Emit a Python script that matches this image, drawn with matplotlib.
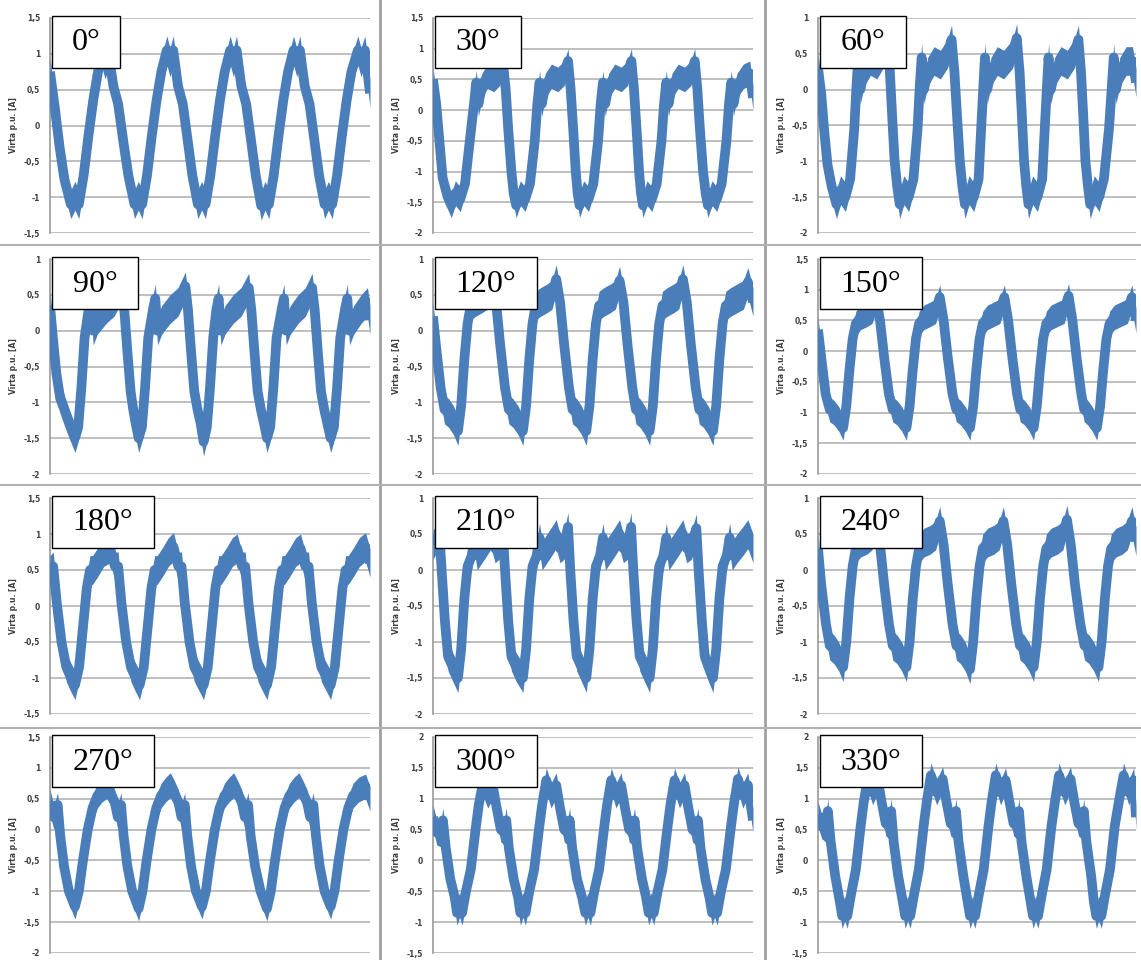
import matplotlib
matplotlib.use("Agg")
import matplotlib.pyplot as plt
from matplotlib.patches import Rectangle
from matplotlib.lines import Line2D
from matplotlib.ticker import FuncFormatter, MultipleLocator

# phase-current waveforms, time axis normalised to 0..100 over the record
wave_000 = [(0, 0.75), (1.5, 0.25), (3, -0.3), (4.5, -0.75), (6.5, -1.1), (7.8, -0.98), (9, -1.1), (10.5, -0.7), (12, -0.15), (13.5, 0.35), (15, 0.75), (16.3, 1.0), (17.2, 0.85), (18.3, 1.0), (19.8, 0.55), (21.3, 0.3), (23, -0.25), (24.5, -0.7), (26.4, -1.1), (27.6, -0.98), (28.8, -1.1), (30.3, -0.7), (31.8, -0.15), (33.3, 0.35), (34.8, 0.75), (36.5, 1.05), (37.5, 0.88), (38.5, 1.05), (40, 0.55), (41.5, 0.3), (43, -0.2), (44.5, -0.7), (46.2, -1.1), (47.4, -0.98), (48.6, -1.1), (50.1, -0.7), (51.6, -0.15), (53.1, 0.35), (54.6, 0.75), (56.3, 1.05), (57.3, 0.88), (58.3, 1.05), (59.8, 0.55), (61.3, 0.3), (62.8, -0.2), (64.3, -0.7), (66, -1.12), (67.2, -0.98), (68.4, -1.1), (69.9, -0.7), (71.4, -0.15), (72.9, 0.35), (74.4, 0.75), (76.1, 1.05), (77.1, 0.88), (78.1, 1.05), (79.6, 0.55), (81.1, 0.3), (82.6, -0.2), (84.1, -0.7), (85.8, -1.1), (87, -0.98), (88.2, -1.1), (89.7, -0.7), (91.2, -0.15), (92.7, 0.35), (94.2, 0.75), (96.2, 1.05), (97.2, 0.88), (98.4, 1.05), (100, 0.45)]
wave_030 = [(0, 0.5), (1, 0.1), (2, -0.5), (3, -1.1), (4.5, -1.4), (5.7, -1.55), (7, -1.35), (8.5, -1.45), (10, -1.2), (11.5, -0.5), (12.8, 0.1), (13.5, 0.45), (14.2, 0.1), (15.3, 0.4), (17, 0.55), (19, 0.5), (20.8, 0.6), (21.9, 0.75), (22.7, 0.35), (23.5, -0.3), (24.5, -1.0), (25.2, -1.35), (26, -1.55), (27.3, -1.35), (28.8, -1.45), (30.3, -1.2), (31.8, -0.5), (32.6, 0.1), (33.3, 0.45), (34, 0.1), (35.1, 0.4), (37, 0.55), (39, 0.5), (41, 0.6), (42.2, 0.8), (43, 0.35), (43.8, -0.3), (44.6, -1.0), (45.2, -1.35), (45.8, -1.55), (47.1, -1.35), (48.6, -1.45), (50.1, -1.2), (51.6, -0.5), (52.4, 0.1), (53.1, 0.45), (53.8, 0.1), (54.9, 0.4), (56.8, 0.55), (58.8, 0.5), (60.8, 0.6), (62, 0.8), (62.8, 0.35), (63.6, -0.3), (64.4, -1.0), (65, -1.35), (65.6, -1.55), (66.9, -1.35), (68.4, -1.45), (69.9, -1.2), (71.4, -0.5), (72.2, 0.1), (72.9, 0.45), (73.6, 0.1), (74.7, 0.4), (76.6, 0.55), (78.6, 0.5), (80.6, 0.6), (81.8, 0.8), (82.6, 0.35), (83.4, -0.3), (84.4, -1.0), (85.2, -1.35), (85.9, -1.55), (87.2, -1.35), (88.7, -1.45), (90.2, -1.2), (91.7, -0.5), (92.5, 0.1), (93.2, 0.45), (93.9, 0.1), (95, 0.4), (97, 0.55), (99, 0.6), (100, 0.2)]
wave_060 = [(0, 0.3), (1, -0.05), (2, -0.6), (3, -1.05), (4.3, -1.35), (5.8, -1.6), (7.1, -1.4), (8.6, -1.5), (10.1, -1.25), (11.4, -0.55), (12.1, 0.05), (12.6, 0.4), (13.3, 0.0), (14.5, 0.25), (16.5, 0.4), (18.5, 0.35), (20.5, 0.5), (21.8, 0.7), (22.6, 0.25), (23.3, -0.35), (24.1, -1.0), (24.9, -1.35), (25.7, -1.6), (27.0, -1.4), (28.5, -1.5), (30.0, -1.25), (31.3, -0.55), (32.0, 0.05), (32.6, 0.45), (33.3, 0.0), (34.5, 0.25), (36.5, 0.4), (38.5, 0.35), (40.7, 0.5), (42.0, 0.7), (42.9, 0.25), (43.7, -0.35), (44.6, -1.0), (45.4, -1.35), (46.2, -1.6), (47.5, -1.4), (49.0, -1.5), (50.5, -1.25), (51.3, -0.55), (52.0, 0.05), (52.5, 0.45), (53.2, 0.0), (54.4, 0.25), (56.4, 0.4), (58.4, 0.35), (61.2, 0.5), (62.5, 0.72), (63.4, 0.25), (64.1, -0.35), (64.8, -1.0), (65.5, -1.35), (66.2, -1.6), (67.5, -1.4), (69, -1.5), (70.5, -1.25), (71.3, -0.55), (72.0, 0.05), (72.5, 0.45), (73.2, 0.0), (74.4, 0.25), (76.4, 0.4), (78.4, 0.35), (80.6, 0.5), (81.9, 0.7), (82.7, 0.25), (83.4, -0.35), (84.1, -1.0), (84.9, -1.35), (85.6, -1.6), (86.9, -1.4), (88.4, -1.5), (89.9, -1.25), (91.5, -0.55), (92.4, 0.05), (93.0, 0.45), (93.7, 0.0), (94.9, 0.25), (96.9, 0.4), (98.9, 0.4), (100, 0.1)]
wave_090 = [(0, 0.35), (1, -0.15), (2, -0.6), (3.2, -0.95), (4.5, -1.1), (6, -1.3), (7.8, -1.5), (8.8, -1.35), (9.8, -0.8), (10.8, -0.1), (12.1, 0.3), (12.8, 0.45), (13.5, 0.0), (14.8, 0.15), (17.5, 0.3), (20, 0.4), (22.4, 0.6), (23.2, 0.3), (24.2, -0.3), (25.2, -0.85), (26.0, -1.1), (26.8, -1.3), (27.7, -1.5), (28.7, -1.35), (29.7, -0.8), (30.7, -0.1), (32.2, 0.3), (32.9, 0.45), (33.6, 0.0), (34.9, 0.15), (37.5, 0.3), (40, 0.4), (42.3, 0.62), (43.1, 0.3), (44.1, -0.3), (45.1, -0.85), (46.1, -1.1), (47.1, -1.3), (48.0, -1.55), (49.0, -1.35), (50.0, -0.8), (51.0, -0.1), (52.0, 0.3), (52.7, 0.45), (53.4, 0.0), (54.7, 0.15), (57.2, 0.3), (59.7, 0.4), (62.1, 0.6), (62.9, 0.3), (63.9, -0.3), (64.9, -0.85), (65.9, -1.1), (66.9, -1.3), (67.8, -1.5), (68.8, -1.35), (69.8, -0.8), (70.8, -0.1), (72.4, 0.3), (73.1, 0.45), (73.8, 0.0), (75.1, 0.15), (77.5, 0.3), (79.8, 0.4), (81.9, 0.6), (82.7, 0.3), (83.7, -0.3), (84.7, -0.85), (85.7, -1.1), (86.7, -1.3), (87.7, -1.5), (88.7, -1.35), (89.7, -0.8), (90.7, -0.1), (92.2, 0.3), (92.9, 0.45), (93.6, 0.0), (94.9, 0.15), (97.2, 0.3), (99.2, 0.4), (100, 0.15)]
wave_120 = [(0, 0.2), (0.9, -0.2), (2.4, -0.8), (3.6, -1.1), (4.9, -1.15), (6.4, -1.25), (7.8, -1.4), (8.8, -1.05), (9.8, -0.4), (10.8, 0.1), (11.8, 0.35), (13.3, 0.4), (15.3, 0.45), (17, 0.5), (18.5, 0.7), (19.7, 0.4), (21, -0.2), (22.5, -0.8), (23.7, -1.1), (25, -1.15), (26.6, -1.25), (28.1, -1.4), (29.1, -1.05), (30.1, -0.4), (31.1, 0.1), (32.1, 0.35), (33.6, 0.4), (35.6, 0.45), (37.2, 0.5), (38.5, 0.72), (39.7, 0.4), (41, -0.2), (42.5, -0.8), (43.6, -1.1), (44.9, -1.15), (46.4, -1.25), (47.9, -1.4), (48.9, -1.05), (49.9, -0.4), (50.9, 0.1), (51.9, 0.35), (53.4, 0.4), (55.4, 0.45), (57, 0.5), (58.3, 0.7), (59.5, 0.4), (60.8, -0.2), (62.3, -0.8), (63.4, -1.1), (64.7, -1.15), (66.2, -1.25), (67.7, -1.4), (68.7, -1.05), (69.7, -0.4), (70.7, 0.1), (71.7, 0.35), (73.2, 0.4), (75.2, 0.45), (76.8, 0.5), (78.1, 0.72), (79.3, 0.4), (80.6, -0.2), (82.1, -0.8), (83.2, -1.1), (84.5, -1.15), (86, -1.25), (87.5, -1.4), (88.5, -1.05), (89.5, -0.4), (90.5, 0.1), (91.5, 0.35), (93, 0.4), (95, 0.45), (97, 0.5), (98.4, 0.68), (100, 0.4)]
wave_150 = [(0, 0.35), (1, -0.1), (2.4, -0.7), (3.7, -0.95), (5, -1.0), (6.5, -1.1), (7.9, -1.25), (8.9, -0.9), (9.9, -0.3), (10.9, 0.2), (11.9, 0.45), (13.4, 0.55), (15.4, 0.6), (17, 0.65), (18.3, 0.85), (19.5, 0.5), (20.8, -0.1), (22.3, -0.7), (23.5, -0.95), (24.8, -1.0), (26.3, -1.1), (27.8, -1.25), (28.8, -0.9), (29.8, -0.3), (30.8, 0.2), (31.8, 0.45), (33.3, 0.55), (35.3, 0.6), (37, 0.65), (38.3, 0.88), (39.5, 0.5), (40.8, -0.1), (42.3, -0.7), (43.5, -0.95), (44.8, -1.0), (46.3, -1.1), (47.8, -1.25), (48.8, -0.9), (49.8, -0.3), (50.8, 0.2), (51.8, 0.45), (53.3, 0.55), (55.3, 0.6), (57.2, 0.65), (58.6, 0.88), (59.8, 0.5), (61.1, -0.1), (62.6, -0.7), (63.6, -0.95), (64.9, -1.0), (66.4, -1.1), (67.8, -1.25), (68.8, -0.9), (69.8, -0.3), (70.8, 0.2), (71.8, 0.45), (73.3, 0.55), (75.3, 0.6), (77.4, 0.65), (78.8, 0.9), (80, 0.5), (81.3, -0.1), (82.8, -0.7), (83.7, -0.95), (84.8, -1.0), (86.2, -1.1), (87.7, -1.25), (88.7, -0.9), (89.7, -0.3), (90.7, 0.2), (91.7, 0.45), (93.2, 0.55), (95.2, 0.6), (97.3, 0.65), (98.7, 0.88), (100, 0.5)]
wave_180 = [(0, 0.5), (1.0, 0.55), (2.1, 0.05), (3.6, -0.5), (5.1, -0.85), (6.4, -0.98), (7.8, -1.1), (9.1, -0.85), (10.3, -0.3), (11.5, 0.25), (12.5, 0.5), (13.3, 0.5), (14.8, 0.6), (16.8, 0.75), (18.8, 0.8), (20.3, 0.55), (21.3, 0.55), (22.3, 0.05), (23.8, -0.5), (25.3, -0.85), (26.6, -0.98), (28.0, -1.1), (29.3, -0.85), (30.5, -0.3), (31.7, 0.25), (32.7, 0.5), (33.5, 0.5), (35, 0.6), (37, 0.75), (38.6, 0.82), (40.1, 0.55), (41.1, 0.55), (42.1, 0.05), (43.6, -0.5), (45.1, -0.85), (46.6, -0.98), (48.0, -1.1), (49.3, -0.85), (50.5, -0.3), (51.7, 0.25), (52.7, 0.5), (53.5, 0.5), (55, 0.6), (57, 0.75), (58.5, 0.8), (60, 0.55), (61, 0.55), (62, 0.05), (63.5, -0.5), (65, -0.85), (66.4, -0.98), (67.8, -1.1), (69.1, -0.85), (70.3, -0.3), (71.5, 0.25), (72.5, 0.5), (73.3, 0.5), (74.8, 0.6), (76.8, 0.75), (78.3, 0.8), (79.8, 0.55), (80.8, 0.55), (81.8, 0.05), (83.3, -0.5), (84.8, -0.85), (86.3, -0.98), (87.7, -1.1), (89, -0.85), (90.2, -0.3), (91.4, 0.25), (92.4, 0.5), (93.2, 0.5), (94.7, 0.6), (96.7, 0.75), (98.6, 0.82), (100, 0.6)]
wave_210 = [(0, 0.35), (2.0, 0.5), (2.7, 0.0), (3.7, -0.7), (4.7, -1.2), (6.2, -1.35), (7.8, -1.5), (8.8, -1.1), (9.8, -0.4), (10.8, 0.05), (12.1, 0.2), (13.0, 0.45), (13.8, 0.2), (15.3, 0.3), (16.8, 0.4), (18.2, 0.5), (19.4, 0.3), (20.7, 0.35), (21.8, 0.55), (22.5, 0.0), (23.5, -0.7), (24.5, -1.2), (26.0, -1.35), (28.1, -1.5), (29.1, -1.1), (30.1, -0.4), (31.1, 0.05), (32.4, 0.2), (33.3, 0.45), (34.1, 0.2), (35.6, 0.3), (37.1, 0.4), (38.5, 0.5), (39.7, 0.3), (41.0, 0.35), (42.2, 0.6), (42.9, 0.0), (43.9, -0.7), (44.9, -1.2), (46.4, -1.35), (47.9, -1.5), (48.9, -1.1), (49.9, -0.4), (50.9, 0.05), (52.2, 0.2), (53.1, 0.45), (53.9, 0.2), (55.4, 0.3), (56.9, 0.4), (58.3, 0.5), (59.5, 0.3), (60.8, 0.35), (61.9, 0.6), (62.6, 0.0), (63.6, -0.7), (64.6, -1.2), (66.1, -1.35), (67.7, -1.5), (68.7, -1.1), (69.7, -0.4), (70.7, 0.05), (72.0, 0.2), (72.9, 0.45), (73.7, 0.2), (75.2, 0.3), (76.7, 0.4), (78.1, 0.5), (79.3, 0.3), (80.8, 0.35), (82.3, 0.58), (83.0, 0.0), (84.0, -0.7), (84.9, -1.2), (86.1, -1.35), (87.5, -1.5), (88.5, -1.1), (89.5, -0.4), (90.5, 0.05), (91.8, 0.2), (92.7, 0.45), (93.5, 0.2), (95.0, 0.3), (96.8, 0.4), (98.4, 0.5), (100, 0.3)]
wave_240 = [(0, 0.3), (1.0, -0.2), (2.5, -0.75), (3.7, -1.05), (5.0, -1.1), (6.5, -1.2), (7.9, -1.35), (8.9, -1.0), (9.9, -0.4), (10.9, 0.05), (11.9, 0.3), (13.4, 0.38), (15.4, 0.42), (17.0, 0.48), (18.3, 0.68), (19.5, 0.35), (20.8, -0.2), (22.3, -0.75), (23.5, -1.05), (24.8, -1.1), (26.3, -1.2), (27.8, -1.35), (28.8, -1.0), (29.8, -0.4), (30.8, 0.05), (31.8, 0.3), (33.3, 0.38), (35.3, 0.42), (37.0, 0.48), (38.3, 0.68), (39.5, 0.35), (40.8, -0.2), (42.3, -0.75), (43.5, -1.05), (44.8, -1.1), (46.3, -1.2), (47.8, -1.38), (48.8, -1.0), (49.8, -0.4), (50.8, 0.05), (51.8, 0.3), (53.3, 0.38), (55.3, 0.42), (57.0, 0.48), (58.3, 0.68), (59.5, 0.35), (60.8, -0.2), (62.3, -0.75), (63.5, -1.05), (64.8, -1.1), (66.3, -1.2), (67.8, -1.35), (68.8, -1.0), (69.8, -0.4), (70.8, 0.05), (71.8, 0.3), (73.3, 0.38), (75.3, 0.42), (77.0, 0.48), (78.3, 0.7), (79.5, 0.35), (80.8, -0.2), (82.5, -0.75), (83.8, -1.05), (85.2, -1.1), (86.7, -1.2), (88.2, -1.35), (89.2, -1.0), (90.2, -0.4), (91.2, 0.05), (92.2, 0.3), (93.7, 0.38), (95.7, 0.42), (97.3, 0.48), (98.7, 0.68), (100, 0.4)]
wave_270 = [(0, 0.45), (1.2, 0.2), (2.4, 0.4), (3.2, -0.1), (4.4, -0.6), (5.9, -1.0), (7.8, -1.25), (9.0, -1.0), (10.3, -0.5), (11.8, 0.0), (13.3, 0.35), (14.8, 0.55), (16.3, 0.65), (17.7, 0.7), (18.9, 0.6), (20.2, 0.45), (21.2, 0.2), (22.2, 0.4), (23.0, -0.1), (24.2, -0.6), (25.7, -1.0), (27.7, -1.28), (28.9, -1.0), (30.2, -0.5), (31.7, 0.0), (33.2, 0.35), (34.7, 0.55), (36.2, 0.65), (37.6, 0.72), (38.8, 0.6), (40.1, 0.45), (41.1, 0.2), (42.1, 0.4), (42.9, -0.1), (44.1, -0.6), (45.6, -1.0), (47.5, -1.25), (48.7, -1.0), (50.0, -0.5), (51.5, 0.0), (53.0, 0.35), (54.5, 0.55), (56.0, 0.65), (57.4, 0.72), (58.6, 0.6), (59.9, 0.45), (60.9, 0.2), (61.9, 0.4), (62.7, -0.1), (64.1, -0.6), (65.8, -1.0), (67.8, -1.28), (69.0, -1.0), (70.3, -0.5), (71.8, 0.0), (73.3, 0.35), (74.8, 0.55), (76.3, 0.65), (77.8, 0.72), (79.0, 0.6), (80.3, 0.45), (81.3, 0.2), (82.3, 0.4), (83.1, -0.1), (84.3, -0.6), (85.8, -1.0), (87.7, -1.25), (88.9, -1.0), (90.2, -0.5), (91.7, 0.0), (93.2, 0.35), (94.7, 0.55), (96.5, 0.65), (98.6, 0.7), (100, 0.5)]
wave_300 = [(0, 0.7), (1.2, 0.45), (2.4, 0.42), (3.1, 0.65), (4.0, 0.2), (5.4, -0.3), (6.8, -0.6), (7.5, -0.85), (8.3, -0.72), (9.1, -0.85), (10.3, -0.5), (11.8, -0.15), (13.3, 0.5), (14.3, 0.9), (15.6, 1.25), (17.1, 1.05), (18.7, 1.2), (19.9, 0.85), (21.2, 0.5), (22.2, 0.45), (22.9, 0.65), (23.7, 0.2), (25.2, -0.3), (26.6, -0.6), (27.3, -0.85), (28.1, -0.72), (28.9, -0.85), (30.1, -0.5), (31.6, -0.15), (33.1, 0.5), (34.1, 0.9), (35.4, 1.3), (36.9, 1.05), (38.5, 1.22), (39.7, 0.85), (41.0, 0.5), (42.0, 0.45), (42.7, 0.65), (43.5, 0.2), (45.0, -0.3), (46.6, -0.6), (47.6, -0.85), (48.4, -0.72), (49.2, -0.85), (50.4, -0.5), (51.9, -0.15), (53.4, 0.5), (54.4, 0.9), (55.7, 1.3), (57.2, 1.05), (58.8, 1.22), (60.0, 0.85), (61.3, 0.5), (62.3, 0.45), (63.0, 0.65), (63.8, 0.2), (65.3, -0.3), (66.6, -0.6), (67.4, -0.85), (68.2, -0.72), (69.0, -0.85), (70.2, -0.5), (71.7, -0.15), (73.2, 0.5), (74.2, 0.9), (75.5, 1.3), (77.0, 1.05), (78.6, 1.22), (79.8, 0.85), (81.1, 0.5), (82.1, 0.45), (82.8, 0.65), (83.6, 0.2), (85.1, -0.3), (86.4, -0.6), (87.2, -0.85), (88.0, -0.72), (88.8, -0.85), (90.0, -0.5), (91.5, -0.15), (93.0, 0.5), (94.0, 0.9), (95.3, 1.32), (96.8, 1.05), (98.4, 1.22), (100, 0.65)]
wave_330 = [(0, 0.75), (1.2, 0.55), (2.4, 0.5), (3.1, 0.8), (4.0, 0.3), (5.4, -0.25), (6.8, -0.65), (7.6, -0.9), (8.4, -0.78), (9.2, -0.9), (10.4, -0.55), (11.9, -0.15), (13.4, 0.55), (14.4, 0.95), (15.7, 1.35), (17.2, 1.1), (18.8, 1.3), (20.0, 0.95), (21.3, 0.6), (22.3, 0.55), (23.0, 0.8), (23.8, 0.3), (25.2, -0.25), (26.6, -0.65), (27.4, -0.9), (28.2, -0.78), (29.0, -0.9), (30.2, -0.55), (31.7, -0.15), (33.2, 0.55), (34.2, 0.95), (35.5, 1.38), (37.3, 1.1), (39.2, 1.32), (40.4, 0.95), (41.7, 0.6), (42.7, 0.55), (43.4, 0.8), (44.2, 0.3), (45.7, -0.25), (47.0, -0.65), (47.8, -0.9), (48.6, -0.78), (49.4, -0.9), (50.6, -0.55), (52.1, -0.15), (53.6, 0.55), (54.6, 0.95), (55.9, 1.38), (57.4, 1.1), (59.0, 1.3), (60.2, 0.95), (61.5, 0.6), (62.5, 0.55), (63.2, 0.8), (64.0, 0.3), (65.5, -0.25), (66.8, -0.65), (67.6, -0.9), (68.4, -0.78), (69.2, -0.9), (70.4, -0.55), (71.9, -0.15), (73.4, 0.55), (74.5, 0.95), (75.8, 1.38), (77.6, 1.1), (79.4, 1.32), (80.6, 0.95), (81.9, 0.6), (82.9, 0.55), (83.6, 0.8), (84.4, 0.3), (85.9, -0.25), (86.7, -0.65), (87.5, -0.9), (88.3, -0.78), (89.1, -0.9), (90.3, -0.55), (91.8, -0.15), (93.3, 0.55), (94.6, 0.95), (96.1, 1.38), (97.7, 1.1), (99.3, 1.3), (100, 0.7)]

angles = ["0°", "30°", "60°", "90°", "120°", "150°",
          "180°", "210°", "240°", "270°", "300°", "330°"]
waves = [wave_000, wave_030, wave_060, wave_090, wave_120, wave_150,
         wave_180, wave_210, wave_240, wave_270, wave_300, wave_330]
y_limits = [(-1.5, 1.5), (-2, 1.5), (-2, 1), (-2, 1), (-2, 1), (-2, 1.5),
            (-1.5, 1.5), (-2, 1), (-2, 1), (-2, 1.5), (-1.5, 2), (-1.5, 2)]

W, H = 1141, 960
col_left = [50, 433, 818]
col_right = [370, 753, 1136]
row_top = [18, 259, 498, 737]
row_bottom = [233, 474, 714, 953]

line_color = "#4a7ebb"
noise = 0.2  # half-height of the measurement noise band

fig = plt.figure(figsize=(W / 100, H / 100), dpi=100)
fig.patch.set_facecolor("white")

comma = FuncFormatter(lambda v, pos: f"{v:g}".replace(".", ","))

for i, (label, wave, ylim) in enumerate(zip(angles, waves, y_limits)):
    r, c = divmod(i, 3)
    x0, x1 = col_left[c], col_right[c]
    y0, y1 = row_top[r], row_bottom[r]
    ax = fig.add_axes([x0 / W, 1 - y1 / H, (x1 - x0) / W, (y1 - y0) / H])

    t = [p[0] for p in wave]
    v = [p[1] for p in wave]
    ax.fill_between(t, [y - noise for y in v], [y + noise for y in v],
                    color=line_color, lw=0, zorder=3)
    ax.plot(t, v, color=line_color, lw=7, solid_joinstyle="round",
            solid_capstyle="butt", zorder=3)

    ax.set_xlim(0, 100)
    ax.set_ylim(*ylim)
    ax.yaxis.set_major_locator(MultipleLocator(0.5))
    ax.yaxis.set_major_formatter(comma)
    ax.set_xticks([])
    ax.grid(axis="y", color="#b4b4b4", lw=1.2, zorder=0)
    ax.set_axisbelow(True)
    for s in ("top", "right", "bottom"):
        ax.spines[s].set_visible(False)
    ax.spines["left"].set_color("#9a9a9a")
    ax.spines["left"].set_linewidth(1.2)
    ax.tick_params(axis="y", length=0, pad=7, labelsize=5.5,
                   labelcolor="#404040")
    for lab in ax.get_yticklabels():
        lab.set_fontweight("bold")
    ax.set_ylabel("Virta p.u. [A]", fontsize=5.5, fontweight="bold",
                  color="#404040")
    ax.yaxis.set_label_coords(-0.1, 0.5)

    # angle tag in the upper-left corner
    bw = {2: 68, 3: 86, 4: 102}[len(label)]
    bx, by, bh = x0 + 2, y0 - 2, 52
    fig.add_artist(Rectangle((bx / W, 1 - (by + bh) / H), bw / W, bh / H,
                             transform=fig.transFigure, facecolor="white",
                             edgecolor="black", lw=1.0, zorder=5))
    fig.text((bx + bw / 2) / W, 1 - (by + bh / 2 + 1) / H, label,
             family="Liberation Serif", fontsize=23, ha="center",
             va="center", zorder=6)

# frames between the individual charts
for xp in (380, 765):
    fig.add_artist(Line2D([xp / W, xp / W], [0, 1], color="#a0a0a0", lw=2,
                          transform=fig.transFigure))
for yp in (245, 485, 728):
    fig.add_artist(Line2D([0, 1], [1 - yp / H, 1 - yp / H], color="#b0b0b0",
                          lw=1.5, transform=fig.transFigure))

fig.savefig("out.png", dpi=100)
